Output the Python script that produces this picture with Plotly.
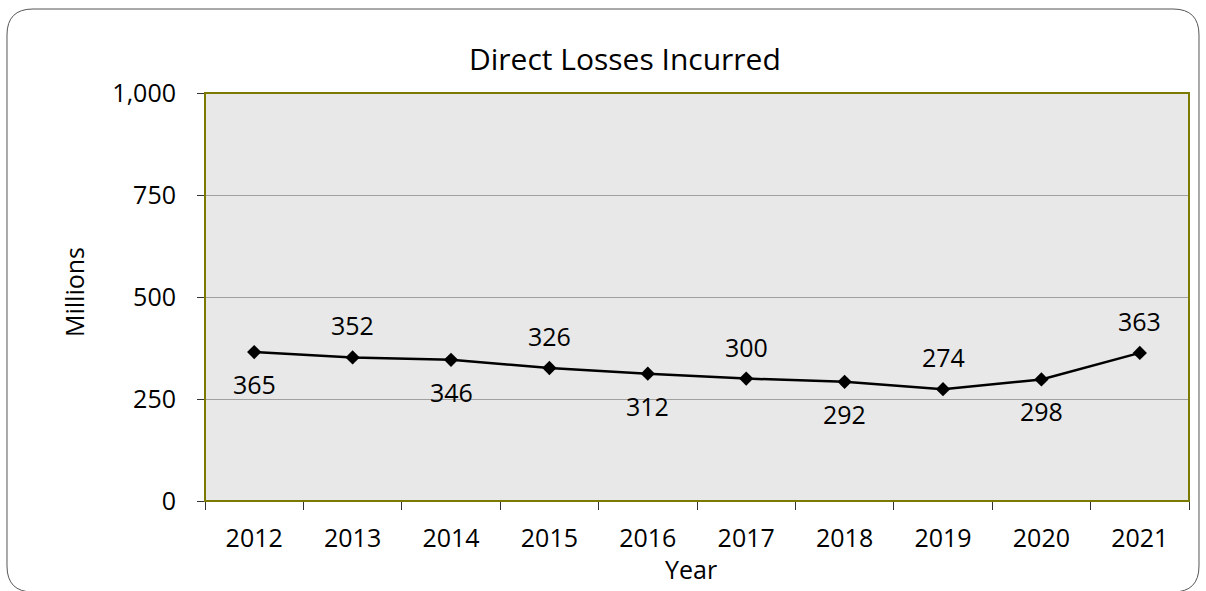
import plotly.graph_objects as go

years = ["2012", "2013", "2014", "2015", "2016", "2017", "2018", "2019", "2020", "2021"]
losses = [365, 352, 346, 326, 312, 300, 292, 274, 298, 363]
y_ticks = [0, 250, 500, 750, 1000]
y_tick_labels = ["0", "250", "500", "750", "1,000"]

W, H = 1206, 591
L, R, T, B = 205, 17, 93, 90
pw, ph = W - L - R, H - T - B

def px(x):
    return (x - L) / pw

def py(y):
    return (H - B - y) / ph

FONT = "Open Sans"

fig = go.Figure()
fig.add_trace(go.Scatter(
    x=years, y=losses, mode="lines+markers",
    line=dict(color="black", width=2.5),
    marker=dict(symbol="diamond", size=11, color="black"),
    hoverinfo="x+y", showlegend=False,
))

annotations = []
for i, v in enumerate(losses):
    annotations.append(dict(
        x=i, y=v, xref="x", yref="y", text=str(v), showarrow=False,
        xanchor="center", yanchor="middle",
        yshift=-32 if i % 2 == 0 else 32,
        font=dict(family=FONT, size=25, color="black"),
    ))

annotations += [
    dict(x=px(625), y=py(58), xref="paper", yref="paper", text="Direct Losses Incurred",
         showarrow=False, font=dict(family=FONT, size=30, color="black"),
         xanchor="center", yanchor="middle"),
    dict(x=px(74), y=py(292), xref="paper", yref="paper", text="Millions", textangle=-90,
         showarrow=False, font=dict(family=FONT, size=25, color="black"),
         xanchor="center", yanchor="middle"),
    dict(x=px(691), y=py(569), xref="paper", yref="paper", text="Year",
         showarrow=False, font=dict(family=FONT, size=25, color="black"),
         xanchor="center", yanchor="middle"),
]

# rounded outer frame
x0, y0, x1, y1, r = 7, 9, 1199, 592, 26
def P(x, y):
    return f"{px(x):.5f},{py(y):.5f}"
path = (f"M {P(x0 + r, y0)} L {P(x1 - r, y0)} Q {P(x1, y0)} {P(x1, y0 + r)} "
        f"L {P(x1, y1 - r)} Q {P(x1, y1)} {P(x1 - r, y1)} "
        f"L {P(x0 + r, y1)} Q {P(x0, y1)} {P(x0, y1 - r)} "
        f"L {P(x0, y0 + r)} Q {P(x0, y0)} {P(x0 + r, y0)} Z")

fig.update_layout(
    width=W, height=H,
    margin=dict(l=L, r=R, t=T, b=B),
    paper_bgcolor="white", plot_bgcolor="#e8e8e8",
    font=dict(family=FONT, size=25, color="black"),
    annotations=annotations,
    shapes=[
        dict(type="path", path=path, xref="paper", yref="paper",
             line=dict(color="#555555", width=1), layer="below"),
        dict(type="rect", xref="paper", yref="paper", x0=0, y0=0, x1=1, y1=1,
             line=dict(color="#7a7a00", width=2), layer="above"),
    ],
    xaxis=dict(
        type="category", tickson="boundaries", ticks="outside", ticklen=8,
        tickcolor="#333333", tickwidth=1, showgrid=False, zeroline=False,
        showline=False, tickfont=dict(family=FONT, size=25, color="black"),
        ticklabelstandoff=20,
        range=[-0.5, len(years) - 0.5],
    ),
    yaxis=dict(
        range=[0, 1000], tickvals=y_ticks, ticktext=y_tick_labels,
        ticks="outside", ticklen=7, tickcolor="#333333", tickwidth=1,
        showgrid=True, gridcolor="#a0a0a0", gridwidth=1, zeroline=False,
        showline=False, tickfont=dict(family=FONT, size=25, color="black"),
        ticklabelstandoff=16,
    ),
)

fig.write_html("out.html", config={"displayModeBar": False},
               post_script="document.body.style.margin='0';")
